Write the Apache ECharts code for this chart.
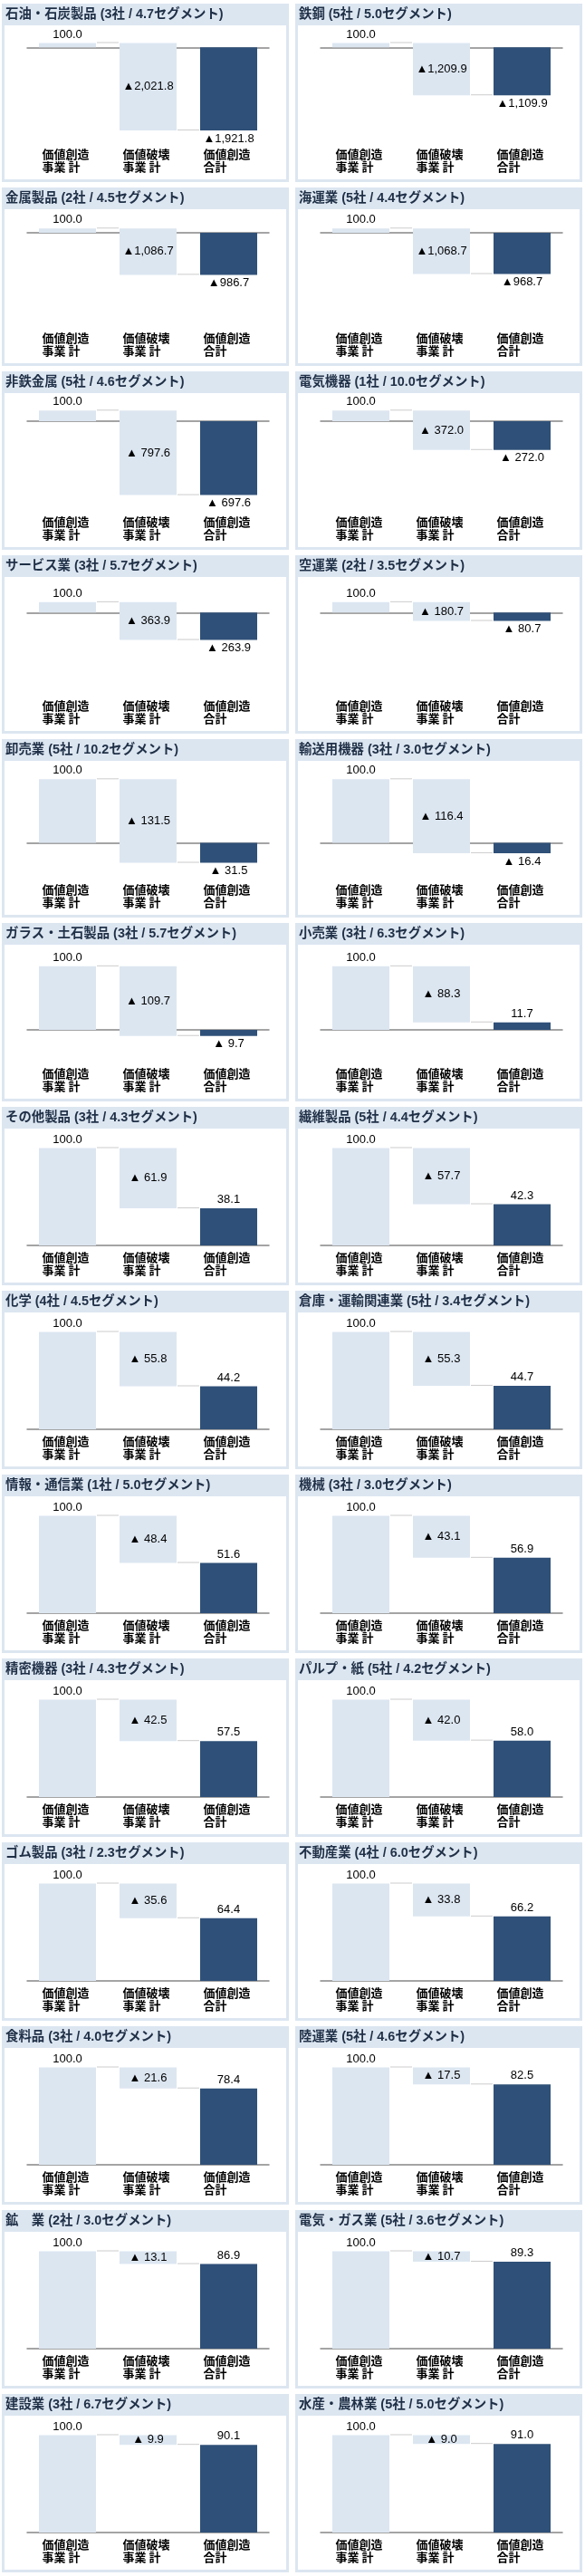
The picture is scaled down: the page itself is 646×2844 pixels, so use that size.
<!DOCTYPE html>
<html><head><meta charset="utf-8">
<script src="https://cdn.jsdelivr.net/npm/echarts@6/dist/echarts.min.js"></script>
<style>html,body{margin:0;padding:0;background:#fff}#c{width:646px;height:2844px}</style>
</head><body><div id="c"></div>
<script>
// ---- data ----
const industries = ['石油・石炭製品','鉄鋼','金属製品','海運業','非鉄金属','電気機器','サービス業','空運業','卸売業','輸送用機器','ガラス・土石製品','小売業','その他製品','繊維製品','化学','倉庫・運輸関連業','情報・通信業','機械','精密機器','パルプ・紙','ゴム製品','不動産業','食料品','陸運業','鉱　業','電気・ガス業','建設業','水産・農林業'];
const companies = [3,5,2,5,5,1,3,2,5,3,3,3,3,5,4,5,1,3,3,5,3,4,3,5,2,5,3,5];
const segments = [4.7,5.0,4.5,4.4,4.6,10.0,5.7,3.5,10.2,3.0,5.7,6.3,4.3,4.4,4.5,3.4,5.0,3.0,4.3,4.2,2.3,6.0,4.0,4.6,3.0,3.6,6.7,5.0];
const creation = [100,100,100,100,100,100,100,100,100,100,100,100,100,100,100,100,100,100,100,100,100,100,100,100,100,100,100,100];
const destruction = [-2021.8,-1209.9,-1086.7,-1068.7,-797.6,-372.0,-363.9,-180.7,-131.5,-116.4,-109.7,-88.3,-61.9,-57.7,-55.8,-55.3,-48.4,-43.1,-42.5,-42.0,-35.6,-33.8,-21.6,-17.5,-13.1,-10.7,-9.9,-9.0];
const totals = [-1921.8,-1109.9,-986.7,-968.7,-697.6,-272.0,-263.9,-80.7,-31.5,-16.4,-9.7,11.7,38.1,42.3,44.2,44.7,51.6,56.9,57.5,58.0,64.4,66.2,78.4,82.5,86.9,89.3,90.1,91.0];
const categories = ['価値創造\n事業 計','価値破壊\n事業 計','価値創造\n合計'];
// value-axis bounds per row of panels
const rowAxisMin = [-2195,-2191,-838,-783,-55,-50,0,0,0,0,0,0,0,0];
const rowAxisMax = [509,553,265,343,129,134,120,120,120,120,120,120,120,120];

// ---- styling ----
const PANEL_BG = '#dce6f1';
const LIGHT_BAR = '#dce6f1';
const DARK_BAR = '#2f5078';
const NUM_FONT = '13px "Liberation Sans", Arial, "Noto Sans CJK JP", sans-serif';
const CJK = '"Liberation Sans", Arial, "Noto Sans CJK JP", sans-serif';

function fmtNum(v){
  const a = Math.abs(v).toFixed(1);
  const parts = a.split('.');
  parts[0] = parts[0].replace(/\B(?=(\d{3})+(?!\d))/g, ',');
  return parts.join('.');
}
// panels whose numbers reach four digits use a compact "▲" format
function fmtSigned(v, compact){
  if (v < 0) return '▲' + (compact ? '' : ' ') + fmtNum(v);
  return fmtNum(v);
}

function makeRender(i){
  const compact = Math.abs(destruction[i]) >= 1000;
  return function(params, api){
    const idx = api.value(0), a = api.value(1), b = api.value(2);
    const p1 = api.coord([idx, a]);
    const p2 = api.coord([idx, b]);
    const bw = api.size([1, 0])[0] * 0.708;
    const top = Math.min(p1[1], p2[1]);
    const bot = Math.max(p1[1], p2[1]);
    const children = [];
    const di = params.dataIndex;
    children.push({type:'rect', shape:{x:p1[0]-bw/2, y:top, width:bw, height:Math.max(bot-top,0.5)},
      style:{fill: di === 2 ? DARK_BAR : LIGHT_BAR}});
    if (di < 2) {
      const n = api.coord([idx + 1, b]);
      children.push({type:'line', shape:{x1:p1[0]+bw/2+1, y1:p2[1]-0.5, x2:n[0]-bw/2-1, y2:p2[1]-0.5},
        style:{stroke:'#cccccc', lineWidth:1}});
    }
    let text, ty;
    if (di === 0) { text = fmtSigned(creation[i], compact); ty = top - 9.5; }
    else if (di === 1) { text = fmtSigned(destruction[i], compact); ty = (top + bot) / 2; }
    else {
      text = fmtSigned(totals[i], compact);
      ty = totals[i] >= 0 ? top - 9.5 : bot + 9;
    }
    children.push({type:'text', style:{text:text, x:p1[0], y:ty, align:'center', verticalAlign:'middle',
      textAlign:'center', textVerticalAlign:'middle', font:NUM_FONT, fill:'#000'}});
    return {type:'group', children:children};
  };
}

const option = {animation:false, title:[], grid:[], xAxis:[], yAxis:[], series:[], graphic:{elements:[]}};
industries.forEach((name, i) => {
  const r = Math.floor(i / 2), c = i % 2;
  const px = c === 0 ? 2 : 326, py = 4 + r * 203;
  option.graphic.elements.push({type:'rect', silent:true, z:-10,
    shape:{x:px, y:py, width:317, height:197}, style:{fill:PANEL_BG}});
  option.graphic.elements.push({type:'rect', silent:true, z:-9,
    shape:{x:px+3, y:py+24, width:311, height:170}, style:{fill:'#ffffff'}});
  option.title.push({text: name + ' (' + companies[i] + '社 / ' + segments[i].toFixed(1) + 'セグメント)',
    left: px + 4, top: py + 5, padding: 0,
    textStyle:{fontSize:14.4, fontWeight:'bold', color:'#1f2f46', fontFamily:CJK}});
  option.grid.push({left:px+28, top:py+24, width:267, height:129});
  option.xAxis.push({gridIndex:i, type:'category', data:categories, position:'bottom',
    axisLine:{show:false, onZero:false}, axisTick:{show:false}, splitLine:{show:false},
    axisLabel:{margin:6, interval:0,
      formatter: v => v.split('\n').map(s => '{a|' + s + '}').join('\n'),
      rich:{a:{width:56, align:'left', fontSize:13, fontWeight:'bold', lineHeight:14.3, color:'#000',
        fontFamily:'"Noto Sans CJK JP", sans-serif'}}}});
  option.xAxis.push({gridIndex:i, type:'category', data:categories, position:'top',
    axisLine:{show:true, onZero:true, lineStyle:{color:'#878787', width:1.5}},
    axisTick:{show:false}, axisLabel:{show:false}, splitLine:{show:false}});
  option.yAxis.push({gridIndex:i, type:'value', min:rowAxisMin[r], max:rowAxisMax[r], show:false,
    splitLine:{show:false}});
  option.series.push({type:'custom', xAxisIndex:2*i, yAxisIndex:i, clip:false,
    data:[[0, 0, creation[i]], [1, creation[i], totals[i]], [2, 0, totals[i]]],
    renderItem: makeRender(i)});
});
const chart = echarts.init(document.getElementById('c'), null, {renderer:'canvas', width:646, height:2844});
chart.setOption(option);
</script>
</body></html>
